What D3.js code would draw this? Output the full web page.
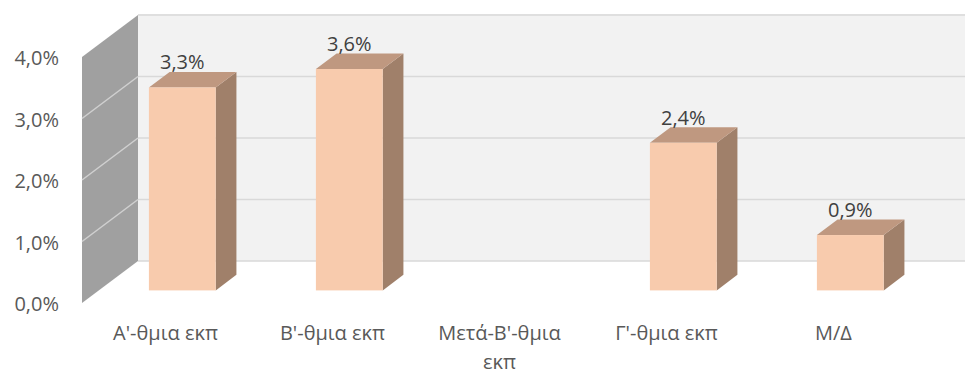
<!DOCTYPE html>
<html><head><meta charset="utf-8">
<script src="https://cdn.jsdelivr.net/npm/d3@7"></script>
<style>
html,body{margin:0;padding:0;background:#fff;}
svg{display:block;}
text{font-family:"Open Sans","Noto Sans",sans-serif;}
</style></head>
<body><svg id="chart" width="965" height="374"></svg>
<script>
const categories = ["Α'-θμια εκπ", "Β'-θμια εκπ", "Μετά-Β'-θμια εκπ", "Γ'-θμια εκπ", "Μ/Δ"];
const categoryLines = [["Α'-θμια εκπ"], ["Β'-θμια εκπ"], ["Μετά-Β'-θμια", "εκπ"], ["Γ'-θμια εκπ"], ["Μ/Δ"]];
const values = [3.3, 3.6, null, 2.4, 0.9];
const valueLabels = ["3,3%", "3,6%", "", "2,4%", "0,9%"];
const tickValues = [0, 1, 2, 3, 4];
const tickLabels = ["0,0%", "1,0%", "2,0%", "3,0%", "4,0%"];

const svg = d3.select("#chart");
const W = 965;
const FS = 20;
// front plane
const x = d3.scaleBand().domain(categories).range([82, 917]).padding(0);
const y = d3.scaleLinear().domain([0, 4]).range([303, 57]);
// depth projection
const DX = 56, DY = -42;
const P = (px, py, d) => [px + DX * d, py + DY * d];
const pts = a => a.map(p => p.join(",")).join(" ");

// back wall
const x0 = x.range()[0];
const [bx0, by0] = P(x0, y(0), 1);
const [bx1, by1] = P(x0, y(4), 1);
svg.append("rect").attr("x", bx0).attr("y", by1 - 1).attr("width", W - bx0).attr("height", by0 - by1 + 1)
  .attr("fill", "#f2f2f2");
// back gridlines
tickValues.forEach(v => {
  const [gx, gy] = P(x0, y(v), 1);
  svg.append("line").attr("x1", gx).attr("x2", W).attr("y1", gy).attr("y2", gy)
    .attr("stroke", "#d9d9d9").attr("stroke-width", 1.5);
});
// side wall
svg.append("polygon").attr("points", pts([
  P(x0, y(0), 0), P(x0, y(4), 0), P(x0, y(4), 1), P(x0, y(0), 1)
])).attr("fill", "#a0a0a0");
tickValues.slice(1, 4).forEach(v => {
  const a = P(x0, y(v), 0), b = P(x0, y(v), 1);
  svg.append("line").attr("x1", a[0]).attr("y1", a[1]).attr("x2", b[0]).attr("y2", b[1])
    .attr("stroke", "#d0d0d0").attr("stroke-width", 1.5);
});

// tick labels
svg.append("g").selectAll("text").data(tickValues).join("text")
  .attr("x", 59).attr("y", v => y(v) + 3)
  .attr("text-anchor", "end").attr("dominant-baseline", "middle")
  .attr("font-size", FS).attr("fill", "#595959")
  .text((v, i) => tickLabels[i]);

// bars
const d0 = 0.3, d1 = 0.67, wFrac = 0.4;
const bars = svg.append("g");
categories.forEach((c, i) => {
  const v = values[i];
  if (v == null) return;
  const cx = x(c) + x.bandwidth() / 2;
  const bw = x.bandwidth() * wFrac;
  const l = cx - bw / 2, r = cx + bw / 2;
  const fb = P(0, y(0), d0)[1], ft = P(0, y(v), d0)[1];
  const [lf] = P(l, 0, d0), [rf] = P(r, 0, d0);
  const g = bars.append("g");
  g.append("polygon").attr("points", pts([
    P(r, y(0), d0), P(r, y(v), d0), P(r, y(v), d1), P(r, y(0), d1)
  ])).attr("fill", "#a0806a");
  g.append("polygon").attr("points", pts([
    P(l, y(v), d0), P(r, y(v), d0), P(r, y(v), d1), P(l, y(v), d1)
  ])).attr("fill", "#bf9880");
  g.append("rect").attr("x", lf).attr("y", ft).attr("width", rf - lf).attr("height", fb - ft)
    .attr("fill", "#f8cbad");
  svg.append("text").attr("x", (lf + rf) / 2).attr("y", ft - 18)
    .attr("text-anchor", "middle").attr("font-size", FS).attr("fill", "#404040")
    .text(valueLabels[i]);
});

// category labels
categories.forEach((c, i) => {
  const cx = x(c) + x.bandwidth() / 2;
  const t = svg.append("text").attr("x", cx).attr("y", 340)
    .attr("text-anchor", "middle").attr("font-size", FS).attr("fill", "#595959");
  categoryLines[i].forEach((ln, j) => {
    t.append("tspan").attr("x", cx).attr("dy", j === 0 ? 0 : 29).text(ln);
  });
});
</script></body></html>
